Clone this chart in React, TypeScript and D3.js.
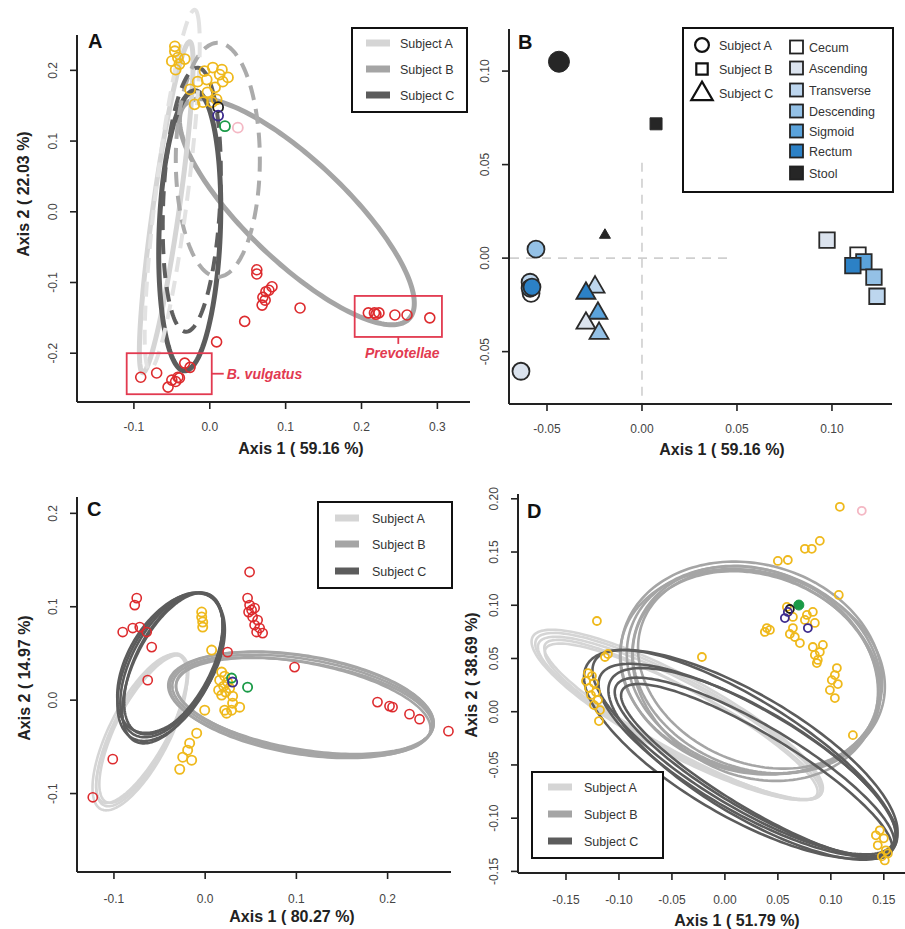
import React from 'react';
import * as d3 from 'd3';

// ---------------- shared ----------------
const SUBJECTS = ['Subject A', 'Subject B', 'Subject C'];
const SUBJECT_COLORS = ['#d5d5d5', '#a5a5a5', '#5c5c5c'];
const PT_COLORS: Record<string, string> = {
  yellow: '#efb91c', red: '#dd2b2e', pink: '#f4b8c4', green: '#1a9a47', purple: '#3d2b8e', black: '#1e1e1e',
};

// ---------------- Panel A data ----------------
const aXTicks = [-0.1, 0.0, 0.1, 0.2, 0.3];
const aYTicks = [-0.2, -0.1, 0.0, 0.1, 0.2];
// ellipses: subject index, dashed, centre, half-extents, correlation
const aEllipses = [
  { s: 1, dash: false, cx: 0.1148, cy: 0.0, sx: 0.1548, sy: 0.1598, r: -0.81 },
  { s: 0, dash: false, cx: -0.0574, cy: 0.0064, sx: 0.0354, sy: 0.234, r: 0.87 },
  { s: 2, dash: false, cx: -0.0264, cy: -0.0269, sx: 0.0409, sy: 0.198, r: 0.16 },
  { s: 1, dash: true, cx: 0.0106, cy: 0.0735, sx: 0.0554, sy: 0.1655, r: 0.0 },
  { s: 0, dash: true, cx: -0.0495, cy: 0.0311, sx: 0.0363, sy: 0.2545, r: 0.81 },
  { s: 2, dash: true, cx: -0.0237, cy: 0.017, sx: 0.0383, sy: 0.1867, r: 0.2 },
];
const aYellow: [number, number][] = [
  [-0.046, 0.234], [-0.046, 0.227], [-0.042, 0.218], [-0.050, 0.213], [-0.040, 0.209], [-0.045, 0.201],
  [-0.033, 0.216], [0.004, 0.204], [0.013, 0.194], [0.024, 0.190], [0.017, 0.184], [-0.004, 0.187],
  [-0.016, 0.184], [-0.003, 0.169], [-0.009, 0.155], [0.003, 0.155], [-0.020, 0.152], [0.009, 0.159],
  [0.007, 0.176], [-0.007, 0.199], [0.016, 0.201], [-0.026, 0.173],
];
const aRed: [number, number][] = [
  [0.062, -0.082], [0.062, -0.088], [0.070, -0.121], [0.074, -0.113], [0.078, -0.111], [0.082, -0.106],
  [0.069, -0.132], [0.073, -0.125], [0.119, -0.136], [0.046, -0.155], [0.009, -0.184], [-0.033, -0.214],
  [-0.026, -0.220], [-0.040, -0.235], [-0.045, -0.240], [-0.042, -0.234], [-0.050, -0.238], [-0.055, -0.248],
  [-0.091, -0.234], [-0.070, -0.228],
  [0.209, -0.143], [0.217, -0.143], [0.219, -0.145], [0.223, -0.143], [0.244, -0.146], [0.260, -0.146], [0.290, -0.150],
];
const aOther = [
  { x: 0.011, y: 0.148, c: 'black' }, { x: 0.011, y: 0.136, c: 'purple' },
  { x: 0.020, y: 0.121, c: 'green' }, { x: 0.037, y: 0.119, c: 'pink' },
];
const aBoxes = [
  { label: 'B. vulgatus', x0: -0.1095, x1: 0.0026, y0: -0.258, y1: -0.200 },
  { label: 'Prevotellae', x0: 0.191, x1: 0.306, y0: -0.177, y1: -0.119 },
];

// ---------------- Panel B data ----------------
const bXTicks = [-0.05, 0.0, 0.05, 0.10];
const bYTicks = [-0.05, 0.0, 0.05, 0.10];
const bSites = ['Cecum', 'Ascending', 'Transverse', 'Descending', 'Sigmoid', 'Rectum', 'Stool'];
const bSiteColors = ['#ffffff', '#dbe3ee', '#bdd6ee', '#94c1e6', '#5ba3db', '#2c81c6', '#262626'];
const bPoints = [
  { subj: 0, site: 6, x: -0.0437, y: 0.105 },
  { subj: 0, site: 3, x: -0.0558, y: 0.0048 },
  { subj: 0, site: 2, x: -0.0589, y: -0.0129 },
  { subj: 0, site: 0, x: -0.0584, y: -0.0188 },
  { subj: 0, site: 4, x: -0.0589, y: -0.0161 },
  { subj: 0, site: 5, x: -0.0579, y: -0.0155 },
  { subj: 0, site: 1, x: -0.0637, y: -0.0605 },
  { subj: 2, site: 6, x: -0.0195, y: 0.0123 },
  { subj: 2, site: 2, x: -0.0247, y: -0.0155 },
  { subj: 2, site: 5, x: -0.0295, y: -0.0188 },
  { subj: 2, site: 4, x: -0.0232, y: -0.0295 },
  { subj: 2, site: 1, x: -0.0295, y: -0.0348 },
  { subj: 2, site: 3, x: -0.0226, y: -0.0402 },
  { subj: 1, site: 6, x: 0.0074, y: 0.0718 },
  { subj: 1, site: 1, x: 0.0974, y: 0.0096 },
  { subj: 1, site: 0, x: 0.1137, y: 0.0016 },
  { subj: 1, site: 4, x: 0.1168, y: -0.0020 },
  { subj: 1, site: 5, x: 0.1110, y: -0.0040 },
  { subj: 1, site: 3, x: 0.1221, y: -0.0102 },
  { subj: 1, site: 2, x: 0.1237, y: -0.0204 },
];
const bRefX = { x: 0.0, yFrom: 0.051 };
const bRefY = { y: 0.0, xTo: 0.048 };

// ---------------- Panel C data ----------------
const cXTicks = [-0.1, 0.0, 0.1, 0.2];
const cYTicks = [-0.1, 0.0, 0.1, 0.2];
const cEllipses = [
  { s: 0, cx: -0.0696, cy: -0.0322, sx: 0.0499, sy: 0.0814, r: 0.73 },
  { s: 0, cx: -0.0680, cy: -0.0300, sx: 0.0480, sy: 0.0800, r: 0.75 },
  { s: 0, cx: -0.0715, cy: -0.0345, sx: 0.0520, sy: 0.0835, r: 0.71 },
  { s: 0, cx: -0.0690, cy: -0.0310, sx: 0.0505, sy: 0.0790, r: 0.77 },
  { s: 1, cx: 0.1068, cy: -0.0054, sx: 0.1428, sy: 0.0540, r: -0.38 },
  { s: 1, cx: 0.1085, cy: -0.0062, sx: 0.1405, sy: 0.0515, r: -0.40 },
  { s: 1, cx: 0.1050, cy: -0.0045, sx: 0.1455, sy: 0.0560, r: -0.36 },
  { s: 1, cx: 0.1075, cy: -0.0072, sx: 0.1395, sy: 0.0530, r: -0.43 },
  { s: 1, cx: 0.1060, cy: -0.0050, sx: 0.1445, sy: 0.0570, r: -0.35 },
  { s: 2, cx: -0.0367, cy: 0.0375, sx: 0.0563, sy: 0.0773, r: 0.52 },
  { s: 2, cx: -0.0348, cy: 0.0392, sx: 0.0540, sy: 0.0760, r: 0.55 },
  { s: 2, cx: -0.0382, cy: 0.0358, sx: 0.0580, sy: 0.0795, r: 0.50 },
  { s: 2, cx: -0.0358, cy: 0.0342, sx: 0.0550, sy: 0.0805, r: 0.57 },
  { s: 2, cx: -0.0374, cy: 0.0398, sx: 0.0590, sy: 0.0748, r: 0.47 },
];
const cRed: [number, number][] = [
  [0.0487, 0.1372], [-0.075, 0.1093], [-0.0772, 0.1018], [-0.0904, 0.0729], [-0.0794, 0.0772], [-0.0717, 0.0782],
  [-0.0641, 0.0729], [-0.0586, 0.0568], [-0.063, 0.0214], [0.0465, 0.1093], [0.0487, 0.1018], [0.0509, 0.0965],
  [0.0476, 0.0943], [0.0542, 0.0986], [0.052, 0.089], [0.0575, 0.0857], [0.0542, 0.0804], [0.0597, 0.0772],
  [0.063, 0.0718], [0.0564, 0.0729], [0.0246, 0.0514], [0.098, 0.0354], [0.1889, -0.0021], [0.2021, -0.0064],
  [0.2054, -0.0075], [0.224, -0.015], [0.235, -0.0204], [0.2667, -0.0332], [-0.1013, -0.0632], [-0.1232, -0.104],
];
const cYellow: [number, number][] = [
  [-0.0038, 0.0943], [-0.0038, 0.089], [-0.0027, 0.0836], [-0.0027, 0.0782], [0.0071, 0.0536], [0.0181, 0.030],
  [0.0214, 0.0257], [0.0159, 0.0214], [0.0246, 0.0193], [0.0203, 0.015], [0.0148, 0.0107], [0.0225, 0.0086],
  [0.0268, 0.0129], [0.0181, 0.0054], [0.0301, 0.0043], [0.0235, -0.0139], [0.0301, -0.0032], [0.0378, -0.0075],
  [0.029, -0.0107], [0.0214, -0.0107], [-0.0005, -0.0107], [-0.0093, -0.0354], [-0.017, -0.0461], [-0.0192, -0.0536],
  [-0.0148, -0.0643], [-0.0279, -0.074], [-0.0246, -0.0611],
];
const cOther = [
  { x: 0.0465, y: 0.0139, c: 'green' }, { x: 0.029, y: 0.0236, c: 'green' }, { x: 0.0301, y: 0.0193, c: 'purple' },
];

// ---------------- Panel D data ----------------
const dXTicks = [-0.15, -0.10, -0.05, 0.0, 0.05, 0.10, 0.15];
const dYTicks = [-0.15, -0.10, -0.05, 0.0, 0.05, 0.10, 0.15, 0.20];
const dEllipses = [
  { s: 0, cx: -0.0425, cy: -0.0060, sx: 0.1340, sy: 0.0764, r: -0.875 },
  { s: 0, cx: -0.0400, cy: -0.0090, sx: 0.1300, sy: 0.0730, r: -0.89 },
  { s: 0, cx: -0.0450, cy: -0.0030, sx: 0.1375, sy: 0.0800, r: -0.86 },
  { s: 0, cx: -0.0415, cy: -0.0075, sx: 0.1290, sy: 0.0750, r: -0.90 },
  { s: 0, cx: -0.0435, cy: -0.0045, sx: 0.1355, sy: 0.0785, r: -0.87 },
  { s: 1, cx: 0.0274, cy: 0.0391, sx: 0.1200, sy: 0.0975, r: -0.16 },
  { s: 1, cx: 0.0300, cy: 0.0370, sx: 0.1170, sy: 0.0950, r: -0.19 },
  { s: 1, cx: 0.0250, cy: 0.0410, sx: 0.1235, sy: 0.1000, r: -0.13 },
  { s: 1, cx: 0.0285, cy: 0.0360, sx: 0.1160, sy: 0.1010, r: -0.17 },
  { s: 1, cx: 0.0315, cy: 0.0400, sx: 0.1135, sy: 0.0935, r: -0.21 },
  { s: 1, cx: 0.0260, cy: 0.0380, sx: 0.1250, sy: 0.0960, r: -0.15 },
  { s: 2, cx: 0.0217, cy: -0.0455, sx: 0.1410, sy: 0.0905, r: -0.79 },
  { s: 2, cx: 0.0280, cy: -0.0520, sx: 0.1320, sy: 0.0840, r: -0.84 },
  { s: 2, cx: 0.0150, cy: -0.0400, sx: 0.1480, sy: 0.0980, r: -0.74 },
  { s: 2, cx: 0.0300, cy: -0.0560, sx: 0.1280, sy: 0.0820, r: -0.87 },
  { s: 2, cx: 0.0180, cy: -0.0380, sx: 0.1430, sy: 0.0960, r: -0.80 },
  { s: 2, cx: 0.0260, cy: -0.0490, sx: 0.1360, sy: 0.0900, r: -0.77 },
];
const dYellow: [number, number][] = [
  [0.1085, 0.1925], [0.0755, 0.153], [0.082, 0.153], [0.0896, 0.1605], [0.05, 0.1416], [0.0594, 0.1425], [0.1075, 0.1097],
  [0.0585, 0.0984], [0.0642, 0.089], [0.083, 0.0937], [0.0774, 0.0909], [0.0755, 0.0862], [0.0849, 0.0834],
  [0.0396, 0.0786], [0.0377, 0.0749], [0.0425, 0.0768], [0.0642, 0.0786], [0.0613, 0.073], [0.066, 0.0702],
  [0.0708, 0.0645], [0.083, 0.0608], [0.0925, 0.0627], [0.0896, 0.0561], [0.0849, 0.0533], [0.0877, 0.0486],
  [0.0868, 0.0457], [0.1057, 0.041], [0.1038, 0.0344], [0.1009, 0.0297], [0.1066, 0.026], [0.0991, 0.0203],
  [0.1038, 0.0128], [0.1208, -0.022], [0.1462, -0.1114], [0.1425, -0.1161], [0.15, -0.1189], [0.1443, -0.1255],
  [0.1519, -0.1302], [0.1481, -0.1359], [0.1538, -0.1331], [0.1509, -0.1397],
  [-0.1208, 0.0852], [-0.1104, 0.0542], [-0.1132, 0.0514], [-0.1292, 0.0363], [-0.1255, 0.0335], [-0.1311, 0.0288],
  [-0.1236, 0.0269], [-0.1283, 0.0222], [-0.1217, 0.0184], [-0.1264, 0.0156], [-0.1198, 0.0109], [-0.1236, 0.0062],
  [-0.1179, 0.0015], [-0.1189, -0.0088], [-0.0217, 0.0514],
];
const dOther = [
  { x: 0.1292, y: 0.1887, c: 'pink' }, { x: 0.0613, y: 0.0965, c: 'black' }, { x: 0.0594, y: 0.0937, c: 'purple' },
  { x: 0.0566, y: 0.088, c: 'purple' }, { x: 0.0783, y: 0.0786, c: 'purple' },
];
const dGreenFilled = [{ x: 0.0698, y: 0.1002 }];

// ---------------- helpers ----------------
const FONT = "'Liberation Sans', Arial, Helvetica, sans-serif";
type Scale = d3.ScaleLinear<number, number>;

function ellipsePath(e: { cx: number; cy: number; sx: number; sy: number; r: number }, x: Scale, y: Scale) {
  const d = Math.acos(e.r);
  const ts = d3.range(0, 360, 2).map((deg) => (deg * Math.PI) / 180);
  const pts: [number, number][] = ts.map((t) => [x(e.cx + e.sx * Math.cos(t + d / 2)), y(e.cy + e.sy * Math.cos(t - d / 2))]);
  return (d3.line()(pts) || '') + 'Z';
}

function Axes(p: {
  x: Scale; y: Scale; xTicks: number[]; yTicks: number[]; dec: number;
  xTitle: string; yTitle?: string; xTitleX: number; xTitleY: number; yTitleX?: number; yTitleY?: number;
  letter: string; letterX: number; letterY: number; xLabOff: number;
}) {
  const [x0, x1] = p.x.range();
  const [yb, yt] = p.y.range();
  const fmt = (v: number) => v.toFixed(p.dec);
  return (
    <g fontFamily={FONT}>
      <line x1={x0} x2={x0} y1={yt} y2={yb} stroke="#222" strokeWidth={2} />
      <line x1={x0} x2={x1} y1={yb} y2={yb} stroke="#222" strokeWidth={2} />
      {p.yTicks.map((v) => (
        <g key={'y' + v}>
          <line x1={x0 - 7} x2={x0} y1={p.y(v)} y2={p.y(v)} stroke="#222" strokeWidth={1.6} />
          <text transform={`translate(${x0 - 20},${p.y(v)}) rotate(-90)`} textAnchor="middle" fontSize={12} fill="#444">{fmt(v)}</text>
        </g>
      ))}
      {p.xTicks.map((v) => (
        <g key={'x' + v}>
          <line x1={p.x(v)} x2={p.x(v)} y1={yb} y2={yb + 7} stroke="#222" strokeWidth={1.6} />
          <text x={p.x(v)} y={yb + p.xLabOff} textAnchor="middle" fontSize={12} fill="#444">{fmt(v)}</text>
        </g>
      ))}
      <text x={p.xTitleX} y={p.xTitleY} textAnchor="middle" fontSize={16} fontWeight="bold" fill="#222">{p.xTitle}</text>
      {p.yTitle && (
        <text transform={`translate(${p.yTitleX},${p.yTitleY}) rotate(-90)`} textAnchor="middle" fontSize={16} fontWeight="bold" fill="#222">{p.yTitle}</text>
      )}
      <text x={p.letterX} y={p.letterY} fontSize={20} fontWeight="bold" fill="#111">{p.letter}</text>
    </g>
  );
}

function SubjectLegend(p: { x: number; y: number; w: number; h: number; sx: number; tx: number; rows: number[] }) {
  return (
    <g fontFamily={FONT}>
      <rect x={p.x} y={p.y} width={p.w} height={p.h} fill="#fff" stroke="#111" strokeWidth={2} />
      {SUBJECTS.map((s, i) => (
        <g key={s}>
          <line x1={p.sx} x2={p.sx + 24} y1={p.rows[i]} y2={p.rows[i]} stroke={SUBJECT_COLORS[i]} strokeWidth={7} />
          <text x={p.tx} y={p.rows[i] + 4.5} fontSize={12.5} fill="#333">{s}</text>
        </g>
      ))}
    </g>
  );
}

function Circles(p: { pts: [number, number][]; x: Scale; y: Scale; color: string; r: number; sw: number }) {
  return (
    <g>
      {p.pts.map((d, i) => (
        <circle key={i} cx={p.x(d[0])} cy={p.y(d[1])} r={p.r} fill="none" stroke={p.color} strokeWidth={p.sw} />
      ))}
    </g>
  );
}

// ---------------- panels ----------------
function PanelA() {
  const x = d3.scaleLinear().domain([-0.175, 0.343]).range([77, 470]);
  const y = d3.scaleLinear().domain([-0.269, 0.25]).range([402, 35]);
  const solids = aEllipses.filter((e) => !e.dash);
  const dashes = aEllipses.filter((e) => e.dash);
  const dashColors = ['#e2e2e2', '#ababab', '#5f5f5f'];
  const red = '#e23a50';
  const bv = aBoxes[0], pv = aBoxes[1];
  return (
    <g>
      <Axes x={x} y={y} xTicks={aXTicks} yTicks={aYTicks} dec={1} xTitle="Axis 1 ( 59.16 %)" yTitle="Axis 2 ( 22.03 %)"
        xTitleX={301} xTitleY={454} yTitleX={29} yTitleY={194} letter="A" letterX={88} letterY={48} xLabOff={29} />
      {solids.map((e, i) => (
        <path key={'s' + i} d={ellipsePath(e, x, y)} fill="none" stroke={SUBJECT_COLORS[e.s]} strokeWidth={5} />
      ))}
      {dashes.map((e, i) => (
        <path key={'d' + i} d={ellipsePath(e, x, y)} fill="none" stroke={dashColors[e.s]} strokeWidth={4} strokeDasharray="15 9" />
      ))}
      <Circles pts={aYellow} x={x} y={y} color={PT_COLORS.yellow} r={5} sw={1.8} />
      <Circles pts={aRed} x={x} y={y} color={PT_COLORS.red} r={5} sw={1.6} />
      {aOther.map((d, i) => (
        <circle key={i} cx={x(d.x)} cy={y(d.y)} r={5} fill="none" stroke={PT_COLORS[d.c]} strokeWidth={1.8} />
      ))}
      {aBoxes.map((b) => (
        <rect key={b.label} x={x(b.x0)} y={y(b.y1)} width={x(b.x1) - x(b.x0)} height={y(b.y0) - y(b.y1)} fill="none" stroke={red} strokeWidth={1.8} />
      ))}
      <line x1={x(bv.x1)} x2={x(bv.x1) + 12} y1={(y(bv.y0) + y(bv.y1)) / 2} y2={(y(bv.y0) + y(bv.y1)) / 2} stroke={red} strokeWidth={1.8} />
      <text x={x(bv.x1) + 15} y={(y(bv.y0) + y(bv.y1)) / 2 + 5} fontFamily={FONT} fontSize={14} fontStyle="italic" fontWeight="bold" fill={red}>{bv.label}</text>
      <line x1={(x(pv.x0) + x(pv.x1)) / 2} x2={(x(pv.x0) + x(pv.x1)) / 2} y1={y(pv.y0)} y2={y(pv.y0) + 7} stroke={red} strokeWidth={1.8} />
      <text x={(x(pv.x0) + x(pv.x1)) / 2 + 4} y={y(pv.y0) + 21} textAnchor="middle" fontFamily={FONT} fontSize={14} fontStyle="italic" fontWeight="bold" fill={red}>{pv.label}</text>
      <SubjectLegend x={352} y={28} w={115} h={84} sx={366} tx={400} rows={[43, 69, 95]} />
    </g>
  );
}

function bSymbol(subj: number, stool: boolean) {
  if (subj === 0) return d3.symbol(d3.symbolCircle, stool ? Math.PI * 10.5 * 10.5 : Math.PI * 8.5 * 8.5)();
  if (subj === 1) return d3.symbol(d3.symbolSquare, stool ? 12 * 12 : 15.5 * 15.5)();
  const side = stool ? 11 : 19;
  return d3.symbol(d3.symbolTriangle, (side * side * Math.sqrt(3)) / 4)();
}

function PanelB() {
  const x = d3.scaleLinear().domain([-0.07, 0.1316]).range([509, 892]);
  const y = d3.scaleLinear().domain([-0.078, 0.1225]).range([404, 29]);
  const rowsL = [45, 69, 93];
  const rowsR = [47, 68, 90, 111, 131, 151, 173];
  return (
    <g>
      <Axes x={x} y={y} xTicks={bXTicks} yTicks={bYTicks} dec={2} xTitle="Axis 1 ( 59.16 %)"
        xTitleX={722} xTitleY={455} letter="B" letterX={518} letterY={49} xLabOff={29} />
      <line x1={x(bRefX.x)} x2={x(bRefX.x)} y1={y(bRefX.yFrom)} y2={403} stroke="#cfcfcf" strokeWidth={1.6} strokeDasharray="9 7" />
      <line x1={510} x2={x(bRefY.xTo)} y1={y(bRefY.y)} y2={y(bRefY.y)} stroke="#cfcfcf" strokeWidth={1.6} strokeDasharray="9 7" />
      {bPoints.map((p, i) => (
        <path key={i} d={bSymbol(p.subj, p.site === 6) || ''} transform={`translate(${x(p.x)},${y(p.y)})`}
          fill={bSiteColors[p.site]} stroke="#2a2a2a" strokeWidth={p.site === 6 ? 1 : 1.8} />
      ))}
      <g fontFamily={FONT}>
        <rect x={683} y={28} width={210} height={164} fill="#fff" stroke="#111" strokeWidth={2} />
        {SUBJECTS.map((s, i) => (
          <g key={s}>
            <path d={d3.symbol(i === 0 ? d3.symbolCircle : i === 1 ? d3.symbolSquare : d3.symbolTriangle, i === 0 ? 150 : i === 1 ? 130 : 200)() || ''}
              transform={`translate(702,${rowsL[i] + (i === 2 ? 1 : 0)})`} fill="#fff" stroke="#111" strokeWidth={2.2} />
            <text x={719} y={rowsL[i] + 4.5} fontSize={12.5} fill="#333">{s}</text>
          </g>
        ))}
        {bSites.map((s, i) => (
          <g key={s}>
            <rect x={790} y={rowsR[i] - 6.5} width={13} height={13} fill={bSiteColors[i]} stroke="#222" strokeWidth={1.8} />
            <text x={809} y={rowsR[i] + 4.5} fontSize={12.5} fill="#333">{s}</text>
          </g>
        ))}
      </g>
    </g>
  );
}

function PanelC() {
  const x = d3.scaleLinear().domain([-0.1405, 0.2695]).range([77, 451]);
  const y = d3.scaleLinear().domain([-0.184, 0.2175]).range([872, 497]);
  return (
    <g>
      <Axes x={x} y={y} xTicks={cXTicks} yTicks={cYTicks} dec={1} xTitle="Axis 1 ( 80.27 %)" yTitle="Axis 2 ( 14.97 %)"
        xTitleX={292} xTitleY={922} yTitleX={30} yTitleY={678} letter="C" letterX={87} letterY={516} xLabOff={31} />
      {cEllipses.map((e, i) => (
        <path key={i} d={ellipsePath(e, x, y)} fill="none" stroke={SUBJECT_COLORS[e.s]} strokeWidth={2.6} />
      ))}
      <Circles pts={cRed} x={x} y={y} color={PT_COLORS.red} r={4.6} sw={1.6} />
      <Circles pts={cYellow} x={x} y={y} color={PT_COLORS.yellow} r={4.6} sw={1.8} />
      {cOther.map((d, i) => (
        <circle key={i} cx={x(d.x)} cy={y(d.y)} r={4.6} fill="none" stroke={PT_COLORS[d.c]} strokeWidth={1.8} />
      ))}
      <SubjectLegend x={318} y={502} w={134} h={86} sx={335} tx={372} rows={[518, 544, 571]} />
    </g>
  );
}

function PanelD() {
  const x = d3.scaleLinear().domain([-0.1953, 0.17]).range([518, 905]);
  const y = d3.scaleLinear().domain([-0.1515, 0.2045]).range([873, 494]);
  return (
    <g>
      <Axes x={x} y={y} xTicks={dXTicks} yTicks={dYTicks} dec={2} xTitle="Axis 1 ( 51.79 %)" yTitle="Axis 2 ( 38.69 %)"
        xTitleX={737} xTitleY={926} yTitleX={477} yTitleY={675} letter="D" letterX={527} letterY={518} xLabOff={31} />
      {dEllipses.map((e, i) => (
        <path key={i} d={ellipsePath(e, x, y)} fill="none" stroke={SUBJECT_COLORS[e.s]} strokeWidth={2.6} />
      ))}
      <Circles pts={dYellow} x={x} y={y} color={PT_COLORS.yellow} r={4} sw={1.8} />
      {dGreenFilled.map((d, i) => (
        <circle key={i} cx={x(d.x)} cy={y(d.y)} r={5} fill={PT_COLORS.green} stroke={PT_COLORS.green} strokeWidth={1} />
      ))}
      {dOther.map((d, i) => (
        <circle key={i} cx={x(d.x)} cy={y(d.y)} r={4} fill="none" stroke={PT_COLORS[d.c]} strokeWidth={1.8} />
      ))}
      <SubjectLegend x={532} y={772} w={131} h={86} sx={548} tx={584} rows={[787, 814, 841]} />
    </g>
  );
}

export default function App() {
  return (
    <svg width={905} height={929} viewBox="0 0 905 929" style={{ position: 'absolute', left: 0, top: 0, background: '#fff' }}>
      <rect x={0} y={0} width={905} height={929} fill="#fff" />
      <PanelA />
      <PanelB />
      <PanelC />
      <PanelD />
    </svg>
  );
}
